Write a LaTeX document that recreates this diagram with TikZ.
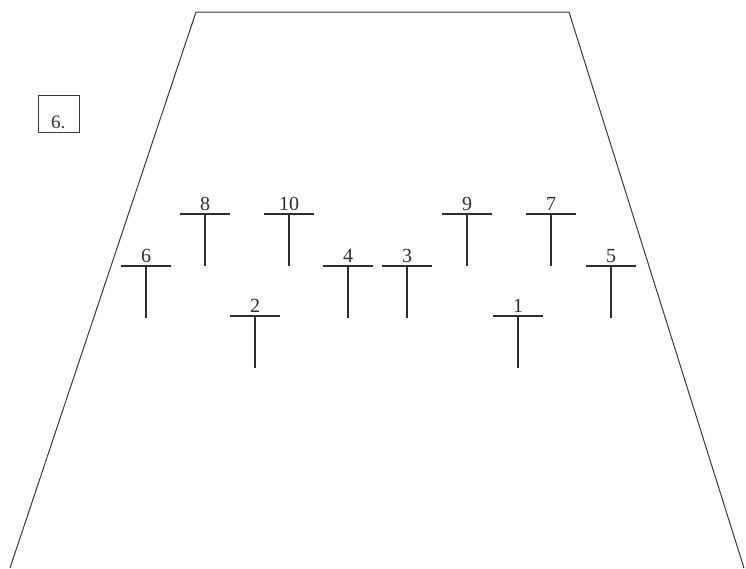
\documentclass[tikz,border=0pt]{standalone}
\usepackage{fontspec}
\setmainfont{Liberation Serif}
\usetikzlibrary{positioning}
\definecolor{LineGray}{HTML}{3A3A3A}
\definecolor{BarGray}{HTML}{2E2E2E}

\begin{document}
\begin{tikzpicture}[
        x=1pt,y=-1pt,
        field/.style={draw=LineGray,line width=1pt},
        bar/.style={draw=BarGray,line width=2.8pt},
        num/.style={anchor=south,inner sep=0pt,font=\fontsize{20}{22}\selectfont,text=BarGray},
        tagbox/.style={draw=LineGray,line width=0.9pt,minimum width=41pt,minimum height=37pt,inner sep=0pt}
      ]
        \useasboundingbox (0,0) rectangle (746,568);
        % field outline
        \coordinate (tl) at (196,12);
        \coordinate (tr) at (569,12);
        \coordinate (br) at (744,568);
        \coordinate (bl) at (10,568);
        \draw[field] (bl)--(tl)--(tr)--(br);
        % tag
        \node[tagbox] (tag) at (59,113.5) {};
        \node[anchor=base west,inner sep=0pt,font=\fontsize{19}{21}\selectfont,text=BarGray] (tagtext) at (51,128) {6.};
        % markers
        \foreach \x/\y/\n in {518/316/1,255/316/2,407/266/3,348/266/4,611/266/5,
                             146/266/6,551/214/7,205/214/8,467/214/9,289/214/10}{
          \coordinate (m\n) at (\x,\y);
          \node[num] (n\n) at ([yshift=3pt]m\n) {\n};
          \draw[bar] ([xshift=-25pt]m\n)--([xshift=25pt]m\n);
          \draw[bar] (m\n)--([yshift=-52pt]m\n);
        }
      \end{tikzpicture}
\end{document}
